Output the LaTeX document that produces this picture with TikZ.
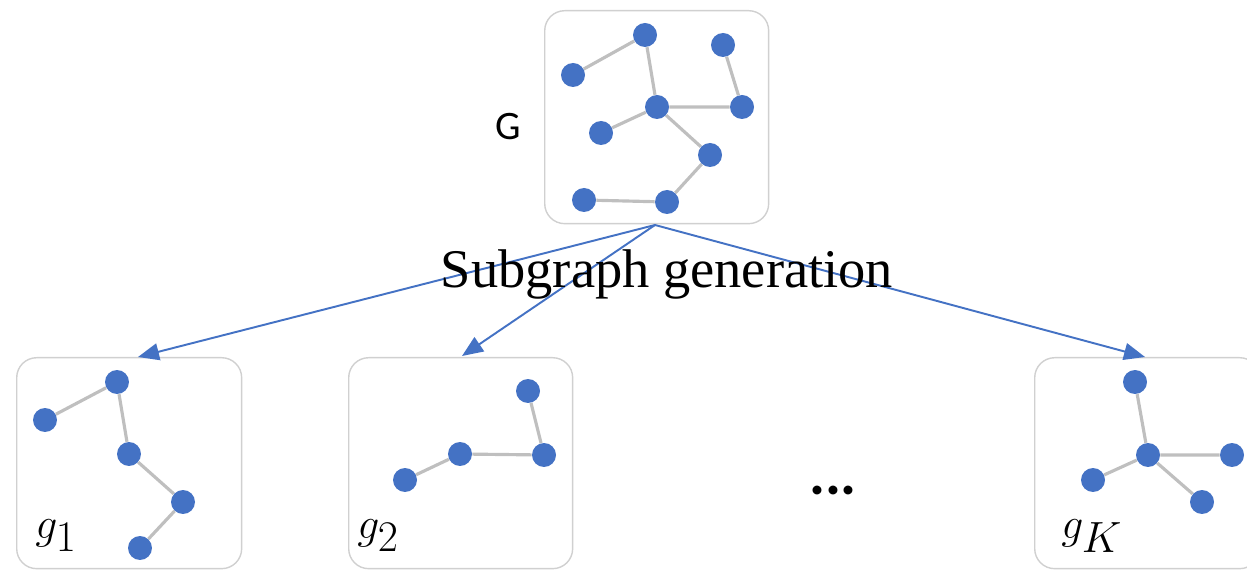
\documentclass[tikz,border=0pt]{standalone}
\usepackage{fontspec}
\setmainfont{Liberation Serif}
\newfontfamily\carlito{Carlito}
\usetikzlibrary{arrows.meta,backgrounds}
\definecolor{nodeblue}{RGB}{68,114,196}
\definecolor{edgegray}{RGB}{191,191,191}
\definecolor{boxgray}{RGB}{208,208,208}
\tikzset{
  vtx/.style={circle,fill=nodeblue,inner sep=0pt,minimum size=0.48cm},
  edg/.style={draw=edgegray,line width=1.8pt},
  panel/.style={draw=boxgray,line width=0.8pt,rounded corners=0.4cm},
  genarrow/.style={draw=nodeblue,line width=1.1pt,-{Triangle[length=0.42cm,width=0.34cm]}},
  glabel/.style={anchor=west,inner sep=0pt,font=\fontsize{33}{38}\selectfont}
}
\begin{document}
\begin{tikzpicture}[x=0.02cm,y=-0.02cm]
\useasboundingbox (0,0) rectangle (1247,570);
\clip (0,0) rectangle (1247,570);
% panels
\node[panel,minimum width=4.48cm,minimum height=4.26cm,anchor=north west] (Gbox) at (544,10) {};
\node[panel,minimum width=4.5cm,minimum height=4.22cm,anchor=north west] (b1) at (16,357) {};
\node[panel,minimum width=4.48cm,minimum height=4.22cm,anchor=north west] (b2) at (348,357) {};
\node[panel,minimum width=4.5cm,minimum height=4.22cm,anchor=north west] (bK) at (1034,357) {};
% top graph
\node[vtx] (a1) at (645,35) {};
\node[vtx] (a2) at (573,75) {};
\node[vtx] (a3) at (723,45) {};
\node[vtx] (a4) at (657,107) {};
\node[vtx] (a5) at (742,107) {};
\node[vtx] (a6) at (601,133) {};
\node[vtx] (a7) at (710,155) {};
\node[vtx] (a8) at (584,200) {};
\node[vtx] (a9) at (667,202) {};
% g1
\node[vtx] (p1) at (117,382) {};
\node[vtx] (p2) at (45,420) {};
\node[vtx] (p3) at (129,454) {};
\node[vtx] (p4) at (183,502) {};
\node[vtx] (p5) at (140,548) {};
% g2
\node[vtx] (q1) at (528,391) {};
\node[vtx] (q2) at (544,455) {};
\node[vtx] (q3) at (460,454) {};
\node[vtx] (q4) at (405,480) {};
% gK
\node[vtx] (r1) at (1135,382) {};
\node[vtx] (r2) at (1148,455) {};
\node[vtx] (r3) at (1232,455) {};
\node[vtx] (r4) at (1093,480) {};
\node[vtx] (r5) at (1202,502) {};
\begin{scope}[on background layer]
\draw[edg] (a1)--(a2) (a1)--(a4) (a3)--(a5) (a4)--(a5) (a4)--(a6) (a4)--(a7) (a7)--(a9) (a9)--(a8);
\draw[edg] (p1)--(p2) (p1)--(p3) (p3)--(p4) (p4)--(p5);
\draw[edg] (q1)--(q2) (q2)--(q3) (q3)--(q4);
\draw[edg] (r1)--(r2) (r2)--(r3) (r2)--(r4) (r2)--(r5);
\end{scope}
% labels
\node[font=\carlito\fontsize{23}{27}\selectfont] (Glab) at (508,127) {G};
\node[glabel] (l1) at (35,536) {$g_1$};
\node[glabel] (l2) at (357,536) {$g_2$};
\node[glabel] (lK) at (1061,536) {$g_K$};
\node[font=\carlito\bfseries\fontsize{34}{38}\selectfont] (dots) at (833,491) {...};
% arrows
\coordinate (src) at (655,225);
\coordinate (t1) at (138,357);
\coordinate (t2) at (462,356);
\coordinate (tK) at (1145,357);
\draw[genarrow] (src) -- (t1);
\draw[genarrow] (src) -- (t2);
\draw[genarrow] (src) -- (tK);
\node[font=\fontsize{31}{36}\selectfont,inner sep=0pt] (sub) at (667,274) {Subgraph generation};
\end{tikzpicture}
\end{document}
